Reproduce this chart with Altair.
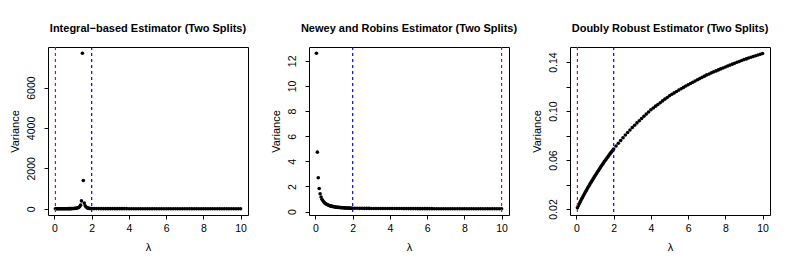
import altair as alt
import pandas as pd

# lambda grid: dense part (0.05 .. 2.00) and sparse part (2.125 .. 10.0)
lam_dense = [0.05, 0.10, 0.15, 0.20, 0.25, 0.30, 0.35, 0.40, 0.45, 0.50,
             0.55, 0.60, 0.65, 0.70, 0.75, 0.80, 0.85, 0.90, 0.95, 1.00,
             1.05, 1.10, 1.15, 1.20, 1.25, 1.30, 1.35, 1.40, 1.45, 1.50,
             1.55, 1.60, 1.65, 1.70, 1.75, 1.80, 1.85, 1.90, 1.95, 2.00]
lam_sparse = [2.125, 2.25, 2.375, 2.5, 2.625, 2.75, 2.875, 3.0,
              3.125, 3.25, 3.375, 3.5, 3.625, 3.75, 3.875, 4.0,
              4.125, 4.25, 4.375, 4.5, 4.625, 4.75, 4.875, 5.0,
              5.125, 5.25, 5.375, 5.5, 5.625, 5.75, 5.875, 6.0,
              6.125, 6.25, 6.375, 6.5, 6.625, 6.75, 6.875, 7.0,
              7.125, 7.25, 7.375, 7.5, 7.625, 7.75, 7.875, 8.0,
              8.125, 8.25, 8.375, 8.5, 8.625, 8.75, 8.875, 9.0,
              9.125, 9.25, 9.375, 9.5, 9.625, 9.75, 9.875, 10.0]

# Integral-based estimator variance
var_int_dense = [2.0, 2.1, 2.2, 2.3, 2.4, 2.5, 2.7, 2.9, 3.1, 3.3,
                 3.6, 3.9, 4.3, 4.8, 5.4, 6.1, 7.0, 8.2, 9.8, 12,
                 15, 19, 25, 33, 45, 65, 100, 180, 390, 7700,
                 1400, 280, 150, 85, 50, 32, 22, 16, 12, 10]
var_int_sparse = [8.5, 8.0, 7.6, 7.2, 6.9, 6.6, 6.3, 6.1,
                  5.9, 5.7, 5.5, 5.4, 5.2, 5.1, 5.0, 4.9,
                  4.8, 4.7, 4.6, 4.5, 4.4, 4.4, 4.3, 4.2,
                  4.2, 4.1, 4.0, 4.0, 3.9, 3.9, 3.8, 3.8,
                  3.7, 3.7, 3.6, 3.6, 3.6, 3.5, 3.5, 3.5,
                  3.4, 3.4, 3.4, 3.3, 3.3, 3.3, 3.2, 3.2,
                  3.2, 3.2, 3.1, 3.1, 3.1, 3.1, 3.0, 3.0,
                  3.0, 3.0, 3.0, 2.9, 2.9, 2.9, 2.9, 2.9]

# Newey and Robins estimator variance
var_nr_dense = [12.6, 4.73, 2.69, 1.84, 1.42, 1.16, 0.98, 0.86, 0.76, 0.69,
                0.63, 0.58, 0.54, 0.51, 0.48, 0.455, 0.435, 0.415, 0.40, 0.385,
                0.372, 0.36, 0.35, 0.341, 0.333, 0.326, 0.319, 0.313, 0.307, 0.302,
                0.297, 0.293, 0.289, 0.285, 0.281, 0.278, 0.275, 0.272, 0.269, 0.267]
var_nr_sparse = [0.265, 0.263, 0.261, 0.259, 0.257, 0.256, 0.254, 0.253,
                 0.252, 0.251, 0.250, 0.249, 0.248, 0.247, 0.246, 0.245,
                 0.245, 0.244, 0.243, 0.242, 0.242, 0.241, 0.240, 0.240,
                 0.239, 0.238, 0.238, 0.237, 0.236, 0.236, 0.235, 0.235,
                 0.234, 0.234, 0.233, 0.233, 0.232, 0.232, 0.231, 0.231,
                 0.230, 0.230, 0.229, 0.229, 0.229, 0.228, 0.228, 0.227,
                 0.227, 0.227, 0.226, 0.226, 0.226, 0.225, 0.225, 0.225,
                 0.224, 0.224, 0.224, 0.223, 0.223, 0.223, 0.222, 0.222]

# Doubly robust estimator variance
var_dr_dense = [0.0210, 0.0226, 0.0242, 0.0258, 0.0274, 0.0288, 0.0302, 0.0316, 0.0330, 0.0344,
                0.0357, 0.0371, 0.0384, 0.0397, 0.0410, 0.0422, 0.0435, 0.0447, 0.0460, 0.0472,
                0.0484, 0.0496, 0.0508, 0.0519, 0.0531, 0.0542, 0.0553, 0.0565, 0.0576, 0.0587,
                0.0598, 0.0608, 0.0619, 0.0629, 0.0640, 0.0650, 0.0660, 0.0670, 0.0680, 0.0690]
var_dr_sparse = [0.0714, 0.0737, 0.0760, 0.0782, 0.0804, 0.0825, 0.0845, 0.0865,
                 0.0884, 0.0903, 0.0921, 0.0939, 0.0957, 0.0975, 0.0992, 0.1010,
                 0.1025, 0.1040, 0.1054, 0.1068, 0.1083, 0.1097, 0.1111, 0.1125,
                 0.1137, 0.1148, 0.1160, 0.1171, 0.1182, 0.1193, 0.1204, 0.1215,
                 0.1225, 0.1235, 0.1245, 0.1255, 0.1265, 0.1275, 0.1285, 0.1295,
                 0.1303, 0.1312, 0.1320, 0.1328, 0.1336, 0.1344, 0.1352, 0.1360,
                 0.1368, 0.1375, 0.1383, 0.1390, 0.1398, 0.1405, 0.1413, 0.1420,
                 0.1426, 0.1433, 0.1439, 0.1445, 0.1451, 0.1458, 0.1464, 0.1470]

titles = ["Integral\u2212based Estimator (Two Splits)",
          "Newey and Robins Estimator (Two Splits)",
          "Doubly Robust Estimator (Two Splits)"]
red_lines = [0.05, 10.0, 0.05]
blue_lines = [2.0, 2.0, 2.0]
x_ticks = [0, 2, 4, 6, 8, 10]
y_ticks = [[0, 2000, 4000, 6000],
           [0, 2, 4, 6, 8, 10, 12],
           [0.02, 0.04, 0.06, 0.08, 0.10, 0.12, 0.14]]
y_domains = [[-308, 8008], [-0.27, 13.1], [0.0151, 0.1523]]
y_label_expr = ["format(datum.value, 'd')",
                "format(datum.value, 'd')",
                "indexof(['0.02','0.06','0.10','0.14'], format(datum.value, '.2f')) >= 0 ? format(datum.value, '.2f') : ''"]

lam = lam_dense + lam_sparse
series = [var_int_dense + var_int_sparse,
          var_nr_dense + var_nr_sparse,
          var_dr_dense + var_dr_sparse]

FONT = "Liberation Sans"

X_AXIS = alt.Axis(values=x_ticks, title="\u03bb", format="d",
                  grid=False, domain=False,
                  labelOverlap=False, labelFlush=False,
                  tickSize=4, labelPadding=4, titlePadding=8,
                  labelFontSize=10.5, titleFontSize=11,
                  titleFontWeight="normal")


def vline(xval, color, xs):
    return alt.Chart(pd.DataFrame({"x": [xval]})).mark_rule(
        strokeDash=[3, 3], strokeWidth=1.2, color=color, opacity=1
    ).encode(x=alt.X("x:Q", scale=xs, axis=X_AXIS))


def panel(i):
    df = pd.DataFrame({"lam": lam, "v": series[i]})
    xs = alt.Scale(domain=[-0.348, 10.398], nice=False, zero=False)
    ys = alt.Scale(domain=y_domains[i], nice=False, zero=False)
    pts = alt.Chart(df).mark_circle(size=13, color="black", opacity=1).encode(
        x=alt.X("lam:Q", scale=xs, axis=X_AXIS),
        y=alt.Y("v:Q", scale=ys,
                axis=alt.Axis(values=y_ticks[i], title="Variance",
                              labelExpr=y_label_expr[i],
                              grid=False, domain=False,
                              labelOverlap=False, labelFlush=False,
                              labelAngle=270, labelAlign="center",
                              labelBaseline="bottom",
                              tickSize=4, labelPadding=8, titlePadding=6,
                              labelFontSize=10.5, titleFontSize=11,
                              titleFontWeight="normal")),
    )
    return alt.layer(pts, vline(red_lines[i], "#ff0000", xs),
                     vline(blue_lines[i], "#0000ff", xs)).properties(
        width=200, height=168,
        title=alt.TitleParams(titles[i], fontSize=11, fontWeight="bold",
                              font=FONT, anchor="middle", offset=12),
    )


chart = alt.hconcat(panel(0), panel(1), panel(2), spacing=61,
                    bounds="flush").properties(
    padding={"left": 0, "top": 14, "right": 0, "bottom": 0},
    background="white",
).configure_view(stroke="black", strokeWidth=1).configure_axis(
    grid=False, domain=False, tickColor="black", labelColor="black",
    titleColor="black", labelFont=FONT, titleFont=FONT,
)

chart.save("out.html", embed_options={"renderer": "svg", "actions": False})
